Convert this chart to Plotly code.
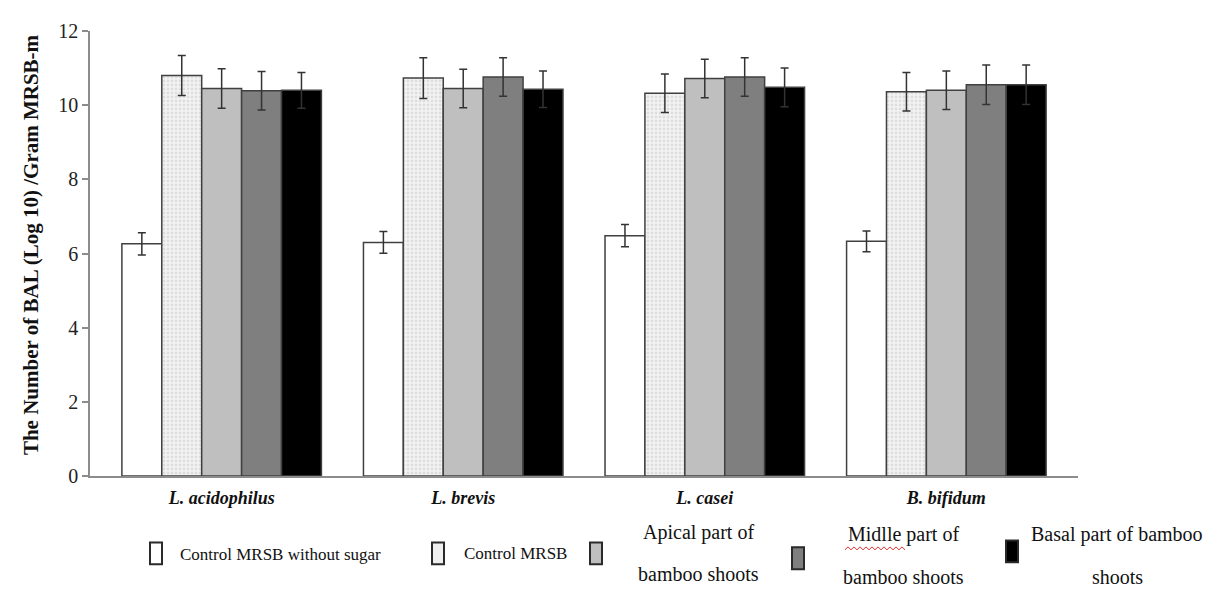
import plotly.graph_objects as go

categories = ["L. acidophilus", "L. brevis", "L. casei", "B. bifidum"]
series_names = [
    "Control MRSB without sugar",
    "Control MRSB",
    "Apical part of bamboo shoots",
    "Midlle part of bamboo shoots",
    "Basal part of bamboo shoots",
]
control_no_sugar = [6.26, 6.30, 6.48, 6.33]
control_no_sugar_err = [0.30, 0.29, 0.30, 0.28]
control_mrsb = [10.80, 10.73, 10.32, 10.36]
control_mrsb_err = [0.54, 0.55, 0.52, 0.52]
apical = [10.45, 10.45, 10.72, 10.40]
apical_err = [0.53, 0.52, 0.52, 0.52]
middle = [10.39, 10.76, 10.76, 10.55]
middle_err = [0.52, 0.52, 0.52, 0.53]
basal = [10.40, 10.43, 10.48, 10.55]
basal_err = [0.48, 0.49, 0.52, 0.53]

y_ticks = [0, 2, 4, 6, 8, 10, 12]

FONT = "Liberation Serif"
OFF = 8  # page body margin offset

fig = go.Figure()

values = [control_no_sugar, control_mrsb, apical, middle, basal]
errors = [control_no_sugar_err, control_mrsb_err, apical_err, middle_err, basal_err]
colors = ["#ffffff", "#efefef", "#bfbfbf", "#7f7f7f", "#000000"]

for i, (name, v, e, c) in enumerate(zip(series_names, values, errors, colors)):
    marker = dict(color=c, line=dict(color="#404040", width=1.5))
    if i == 1:
        marker["pattern"] = dict(shape=".", fgcolor="#c8c8c8", bgcolor="#f3f3f3",
                                 size=4, solidity=0.4)
    fig.add_trace(go.Bar(
        name=name, x=categories, y=v, marker=marker,
        error_y=dict(type="data", array=e, color="#333333", thickness=1.5, width=4),
        showlegend=False,
    ))

fig.update_layout(
    width=1213 - OFF, height=590 - OFF,
    margin=dict(l=90 - OFF, r=135, t=27 - OFF, b=114),
    plot_bgcolor="white", paper_bgcolor="white",
    barmode="group", bargap=0.174, bargroupgap=0,
    font=dict(family=FONT, color="#111"),
)

fig.update_xaxes(
    type="category", range=[-0.545, 3.545],
    tickvals=categories,
    ticktext=["<b><i>%s</i></b>" % c for c in categories],
    tickfont=dict(size=18, family=FONT, color="#111"),
    showline=True, linecolor="#8c8c8c", linewidth=1.5,
    ticks="", showgrid=False, ticklabelstandoff=5,
)
fig.update_yaxes(
    range=[0, 12], tickvals=y_ticks,
    tickfont=dict(size=20, family=FONT, color="#222"),
    showline=True, linecolor="#8c8c8c", linewidth=1.5,
    ticks="outside", ticklen=6, tickcolor="#8c8c8c", tickwidth=1.5,
    showgrid=False, zeroline=False,
)

def px(x):
    return (x - 90) / 988.0

def py(y):
    return (476 - y) / 449.0

# y-axis title
fig.add_annotation(
    text="<b>The Number of BAL (Log 10) /Gram MRSB-m</b>",
    xref="paper", yref="paper", x=px(17), y=py(243),
    textangle=-90, showarrow=False,
    font=dict(size=21, family=FONT, color="#111"),
)

# custom legend
legend_markers = [(156, 554), (438, 554), (596, 554), (798, 559), (1012, 552)]
for (cx, cy), c in zip(legend_markers, colors):
    fig.add_shape(
        type="rect", xref="paper", yref="paper",
        x0=px(cx - 6), x1=px(cx + 6), y0=py(cy + 11), y1=py(cy - 11),
        fillcolor=c, line=dict(color="#2a2a2a", width=2),
    )

legend_texts = [
    ("Control MRSB without sugar", 178, 555, 17, "left"),
    ("Control MRSB", 462, 554, 17, "left"),
    ("Apical part of", 698, 533, 20, "center"),
    ("bamboo shoots", 698, 575, 20, "center"),
    ("Midlle part of", 903, 535, 20, "center"),
    ("bamboo shoots", 903, 578, 20, "center"),
    ("Basal part of bamboo", 1117, 535, 20, "center"),
    ("shoots", 1117, 578, 20, "center"),
]
for text, x, y, size, anchor in legend_texts:
    fig.add_annotation(
        text=text, xref="paper", yref="paper", x=px(x), y=py(y),
        xanchor=anchor, yanchor="middle", showarrow=False,
        font=dict(size=size, family=FONT, color="#111"),
    )

# red spell-check squiggle under "Midlle"
zx0, zx1, zy = 845, 905, 549
pts = []
step = 3
k = 0
x = zx0
while x <= zx1:
    yy = zy + (1.5 if k % 2 == 0 else -1.5)
    pts.append("%s%.5f,%.5f" % ("M" if k == 0 else "L", px(x), py(yy)))
    x += step
    k += 1
fig.add_shape(type="path", xref="paper", yref="paper", path=" ".join(pts),
              line=dict(color="#e03030", width=1))

fig.write_html("out.html")
